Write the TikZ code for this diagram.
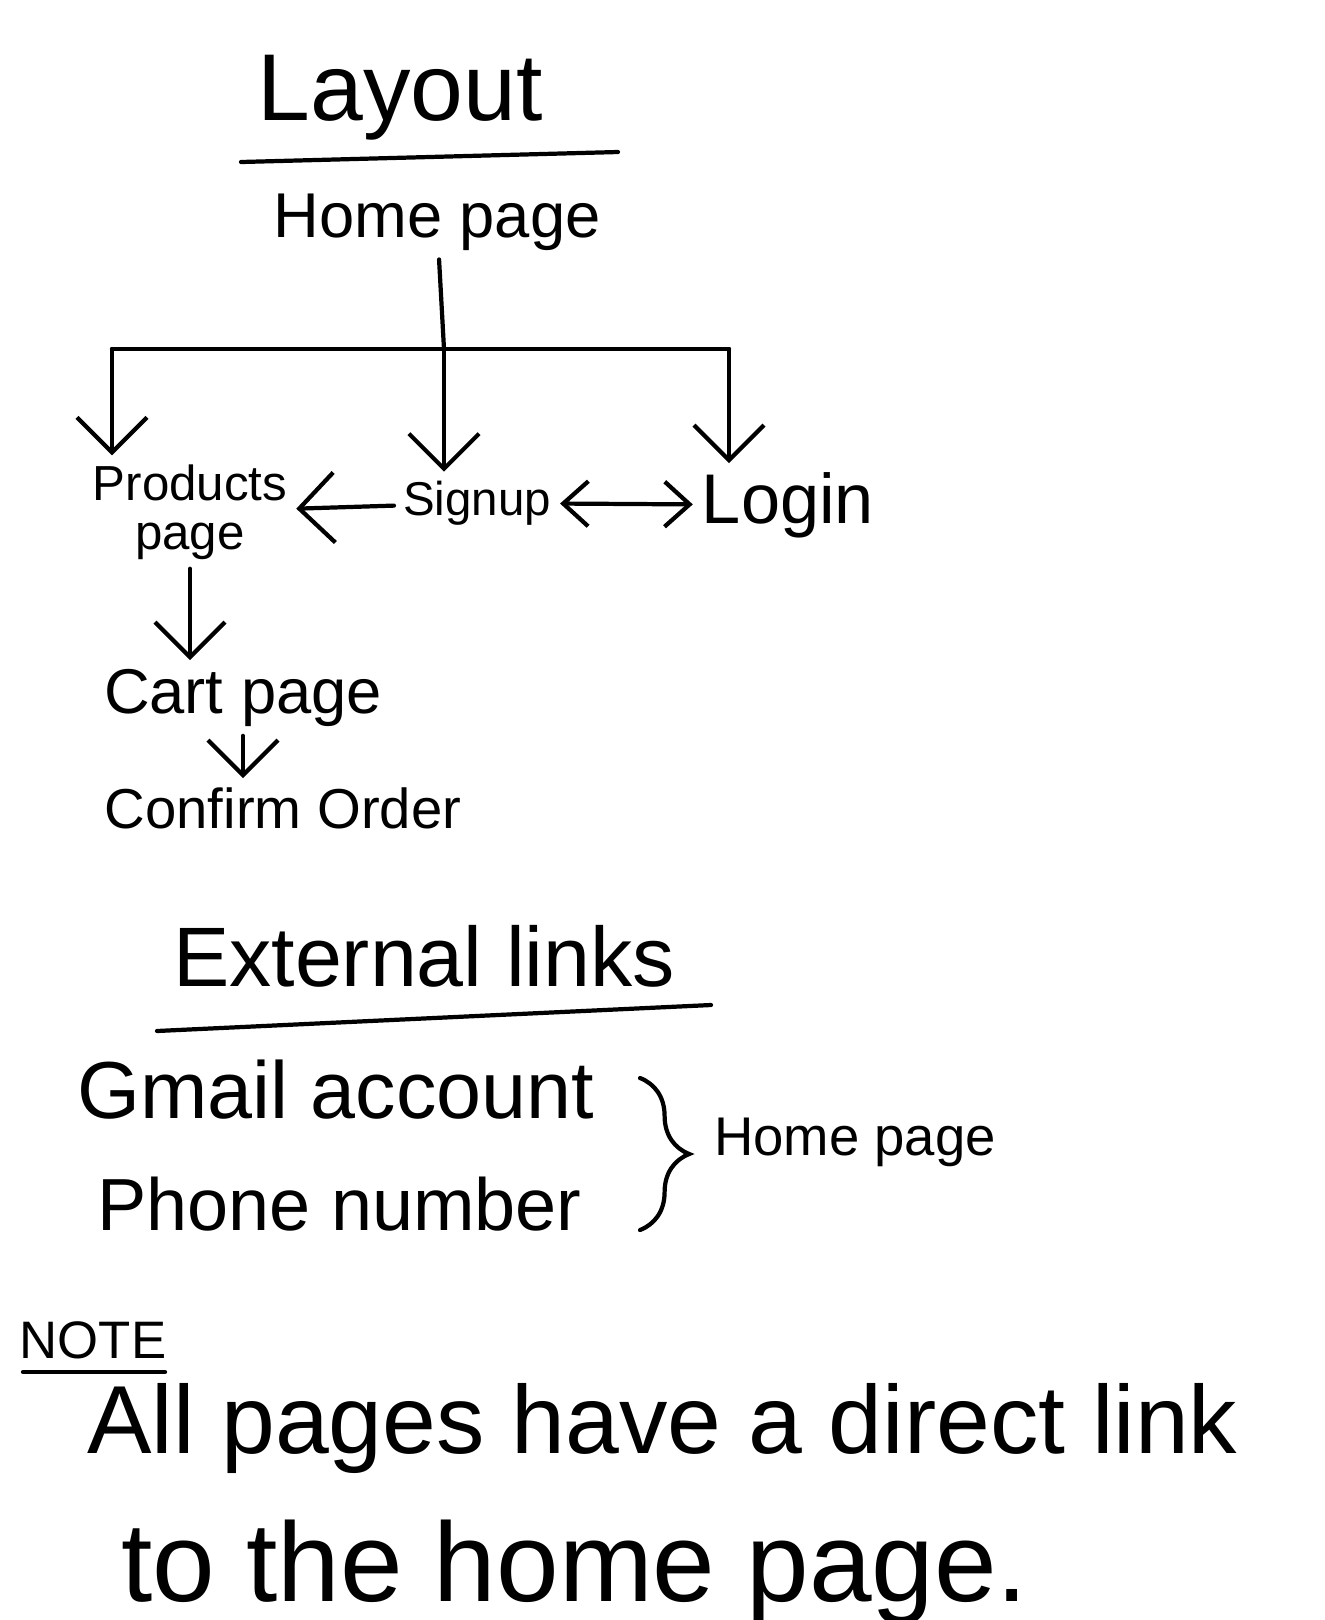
\documentclass[tikz,border=0pt]{standalone}
\usepackage{fontspec}
\setmainfont{Liberation Sans}
\usetikzlibrary{arrows.meta,decorations.pathreplacing}

\begin{document}
\begin{tikzpicture}[x=0.01cm, y=-0.01cm, line width=1.2pt, line cap=round,
    arr/.style={-{Straight Barb[length=3.5mm,width=7mm]}},
    darr/.style={{Straight Barb[length=2.5mm,width=4.5mm]}-{Straight Barb[length=2.5mm,width=4.5mm]}},
    lbl/.style={inner sep=2pt}]
    \useasboundingbox (0,0) rectangle (1325,1620);

    % Layout part
    \node[lbl, font=\fontsize{27}{30}\selectfont] (layout) at (400,98) {Layout};
    \coordinate (ulA) at (241,162);
    \coordinate (ulB) at (618,152);
    \draw (ulA) -- (ulB);

    \node[lbl, font=\fontsize{18}{22}\selectfont] (home) at (437,222) {Home page};

    \node[lbl, font=\fontsize{14}{14}\selectfont, align=center] (prod) at (190,512) {Products\\page};
    \node[lbl, font=\fontsize{13.5}{16}\selectfont] (signup) at (477,503) {Signup};
    \node[lbl, font=\fontsize{20}{24}\selectfont] (login) at (788,505) {Login};
    \node[lbl, font=\fontsize{18}{22}\selectfont] (cart) at (243,698) {Cart page};
    \node[lbl, font=\fontsize{16}{19}\selectfont] (confirm) at (283,808) {Confirm Order};

    % Draw the tree under the home page
    \coordinate (junc) at (444,349);
    \coordinate (barL) at (112,349);
    \coordinate (barR) at (729,349);
    \draw (home) -- (junc);
    \draw (barL) -- (barR);
    \draw[arr] (barL) -- (barL |- prod.north);
    \draw[arr] (junc) -- (junc |- signup.north);
    \draw[arr] (barR) -- (barR |- login.north);

    \draw[arr] (signup) -- (prod);
    \draw[darr] (signup) -- (login);
    \draw[arr] (prod) -- (prod |- cart.north);
    \draw[arr] (cart) -- (cart |- confirm.north);

    % External links part
    \node[lbl, font=\fontsize{24}{28}\selectfont] (ext) at (424,956) {External links};
    \coordinate (ulC) at (157,1031);
    \coordinate (ulD) at (711,1005);
    \draw (ulC) -- (ulD);

    \node[lbl, anchor=west, font=\fontsize{23}{27}\selectfont] (gmail) at (68,1090) {Gmail account};
    \node[lbl, anchor=west, font=\fontsize{21}{25}\selectfont] (phone) at (88,1204) {Phone number};
    \coordinate (brT) at (640,1078);
    \coordinate (brB) at (640,1230);
    \draw[decorate, decoration={brace, amplitude=14pt}] (brT) -- (brB);
    \node[lbl, anchor=west, font=\fontsize{15.5}{19}\selectfont] (homeb) at (705,1142) {Home page};

    % Note part
    \node[lbl, font=\fontsize{15}{18}\selectfont] (note) at (93,1340) {NOTE};
    \coordinate (ulE) at (23,1372);
    \coordinate (ulF) at (165,1372);
    \draw (ulE) -- (ulF);

    \node[lbl, anchor=west, font=\fontsize{27.5}{32}\selectfont] (line1) at (78,1428) {All pages have a direct link};
    \node[lbl, anchor=west, font=\fontsize{32}{36}\selectfont] (line2) at (112,1572) {to the home page.};
\end{tikzpicture}
\end{document}
